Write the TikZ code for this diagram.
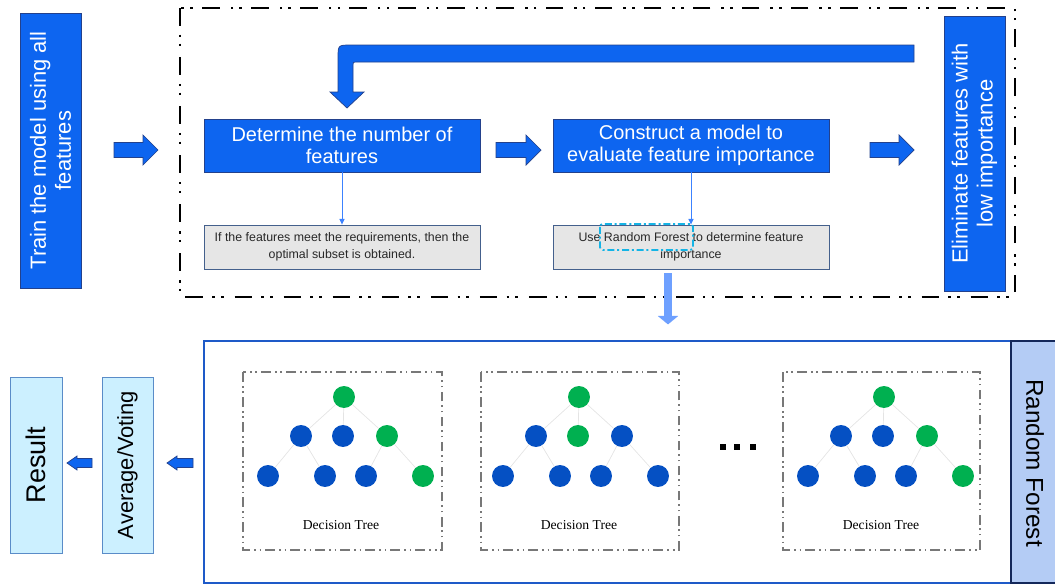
\documentclass[tikz,border=0pt]{standalone}
\usepackage{fontspec}
\setmainfont{Liberation Sans}
\newfontfamily\dtfont{Liberation Serif}
\usetikzlibrary{arrows.meta,calc}
\definecolor{mblue}{RGB}{13,101,240}
\definecolor{mborder}{RGB}{35,65,140}
\definecolor{gfill}{RGB}{230,230,230}
\definecolor{gborder}{RGB}{68,96,140}
\definecolor{gtext}{RGB}{40,40,40}
\definecolor{conn}{RGB}{60,130,255}
\definecolor{lblue}{RGB}{110,160,255}
\definecolor{cyanbox}{RGB}{20,180,230}
\definecolor{rfborder}{RGB}{30,90,200}
\definecolor{rffill}{RGB}{180,204,245}
\definecolor{rflabelborder}{RGB}{20,40,90}
\definecolor{resfill}{RGB}{204,240,255}
\definecolor{resborder}{RGB}{90,140,200}
\definecolor{tgreen}{RGB}{0,176,80}
\definecolor{tblue}{RGB}{5,80,195}
\definecolor{tedge}{RGB}{228,228,228}
\definecolor{tboxgray}{RGB}{120,120,120}
\def\PX{0.025cm}
\newcommand\fsB{\fontsize{14.2}{15.8}\selectfont}
\newcommand\fsV{\fontsize{15.6}{17.8}\selectfont}
\newcommand\fsG{\fontsize{8.8}{12}\selectfont}
\newcommand\fsRes{\fontsize{19.2}{22}\selectfont}
\newcommand\fsAvg{\fontsize{15.6}{18}\selectfont}
\newcommand\fsRF{\fontsize{17.3}{20}\selectfont}
\newcommand\fsDT{\dtfont\fontsize{9.7}{11}\selectfont}
% block arrow to the right: x1, x2 (tip), y centre
\newcommand\RArrow[3]{%
  \filldraw[fill=mblue,draw=mborder,line width=0.5pt]
   (#1,#3-7.5) -- (#2-15,#3-7.5) -- (#2-15,#3-15) -- (#2,#3) -- (#2-15,#3+15)
   -- (#2-15,#3+7.5) -- (#1,#3+7.5) -- cycle;}
% small block arrow to the left: x1 (tip), x2, y centre
\newcommand\LArrow[3]{%
  \filldraw[fill=mblue,draw=mborder,line width=0.5pt]
   (#1,#3) -- (#1+10,#3-7) -- (#1+10,#3-4.5) -- (#2,#3-4.5) -- (#2,#3+4.5)
   -- (#1+10,#3+4.5) -- (#1+10,#3+7) -- cycle;}
% decision tree: prefix, root x, colour of b, c, g
\newcommand\DTree[5]{%
  \node[tn,fill=tgreen] (#1r) at (#2,397) {};
  \node[tn,fill=tblue] (#1a) at (#2-43,436) {};
  \node[tn,fill=#3] (#1b) at (#2-1,436) {};
  \node[tn,fill=#4] (#1c) at (#2+43,436) {};
  \node[tn,fill=tblue] (#1d) at (#2-76,476) {};
  \node[tn,fill=tblue] (#1e) at (#2-19,476) {};
  \node[tn,fill=tblue] (#1f) at (#2+22,476) {};
  \node[tn,fill=#5] (#1g) at (#2+79,476) {};
  \draw[tedgest] (#1r) -- (#1a); \draw[tedgest] (#1r) -- (#1b); \draw[tedgest] (#1r) -- (#1c);
  \draw[tedgest] (#1a) -- (#1d); \draw[tedgest] (#1a) -- (#1e);
  \draw[tedgest] (#1c) -- (#1f); \draw[tedgest] (#1c) -- (#1g);}
\begin{document}
\begin{tikzpicture}[x=0.025cm,y=-0.025cm,
  bluebox/.style={draw=mborder,fill=mblue,line width=0.6pt,inner sep=0,text=white,align=center,font=\fsB},
  graybox/.style={draw=gborder,fill=gfill,line width=0.6pt,inner sep=0,text=gtext,align=center,font=\fsG},
  vtext/.style={text=white,align=center,font=\fsV,inner sep=0},
  thinconn/.style={draw=conn,line width=0.6pt,-{Triangle[width=3.6pt,length=4pt]}},
  outerdash/.style={draw=black,line width=1.7pt,dash pattern=on 12.5pt off 6.5pt on 1.8pt off 4.5pt on 1.8pt off 7.8pt},
  treedash/.style={draw=tboxgray,line width=1pt,dash pattern=on 7pt off 3pt on 1.2pt off 2.6pt on 1.2pt off 2.8pt},
  cyandash/.style={draw=cyanbox,line width=1.3pt,dash pattern=on 5pt off 2pt on 1.4pt off 2pt,rounded corners=2pt},
  tn/.style={circle,draw=none,minimum size=15.6pt,inner sep=0},
  tedgest/.style={draw=tedge,line width=0.5pt},
  resbox/.style={draw=resborder,fill=resfill,line width=0.6pt,inner sep=0},
  fatconn/.style={draw=lblue,line width=5.7pt,-{Triangle[width=14.2pt,length=6pt]}}
]
\useasboundingbox (0,0) rectangle (1055,585);
\clip (0,0) rectangle (1055,585);

% ---------- top part ----------
\node[bluebox,minimum width=61*\PX,minimum height=275*\PX] (train) at (50.5,150.5) {};
\node[vtext,rotate=90] (traintxt) at (train) {Train the model using all\\features};

\draw[outerdash] (180,8) rectangle (1015,297);

\node[bluebox,minimum width=276*\PX,minimum height=53*\PX] (det) at (342,145.5) {Determine the number of\\features};
\node[bluebox,minimum width=276*\PX,minimum height=53*\PX] (con) at (691,145.5) {Construct a model to\\evaluate feature importance};
\node[bluebox,minimum width=61*\PX,minimum height=275*\PX] (elim) at (974.5,153.5) {};
\node[vtext,rotate=90] (elimtxt) at (elim) {Eliminate features with\\low importance};

\node[graybox,minimum width=276*\PX,minimum height=44*\PX] (opt) at (342,247) {If the features meet the requirements, then the\\optimal subset is obtained.};
\node[graybox,minimum width=276*\PX,minimum height=44*\PX] (use) at (691,247) {Use Random Forest to determine feature\\importance};

\draw[thinconn] (det.south) -- (opt.north);
\draw[thinconn] (con.south) -- (use.north);

\draw[cyandash] (600,224) rectangle (693,250);

\RArrow{114}{158}{150}
\RArrow{496}{541}{150}
\RArrow{870}{914}{150}

% loop arrow
\filldraw[fill=mblue,draw=mborder,line width=0.5pt]
  (914,45) -- (351,45) .. controls (338,45) and (338,45) .. (338,58) -- (338,92)
  -- (330,92) -- (347,108) -- (364,92) -- (353,92) -- (353,65)
  .. controls (353,62) and (353,62) .. (356,62) -- (914,62) -- cycle;

\coordinate (fatstart) at ($(use.south)+(-23,4)$);
\coordinate (fatend) at ($(use.south)+(-23,55)$);
\draw[fatconn] (fatstart) -- (fatend);

% ---------- bottom part ----------
\node[draw=rfborder,line width=1.4pt,minimum width=807*\PX,minimum height=242*\PX,inner sep=0] (rf) at (607.5,462) {};
\node[draw=rflabelborder,fill=rffill,line width=1.2pt,minimum width=50*\PX,minimum height=242*\PX,inner sep=0] (rflabel) at (1036,462) {};
\node[rotate=-90,font=\fsRF,inner sep=0] (rftxt) at (1035,463) {Random Forest};

\draw[treedash] (243,372) rectangle (442,550);
\draw[treedash] (481,372) rectangle (679,550);
\draw[treedash] (783,372) rectangle (980,550);

\DTree{ta}{344}{tblue}{tgreen}{tgreen}
\DTree{tb}{579}{tgreen}{tblue}{tblue}
\DTree{tc}{884}{tblue}{tgreen}{tgreen}

\node[font=\fsDT,inner sep=0] (dt1) at (341,525) {Decision Tree};
\node[font=\fsDT,inner sep=0] (dt2) at (579,525) {Decision Tree};
\node[font=\fsDT,inner sep=0] (dt3) at (881,525) {Decision Tree};

\fill[black] (720,444) rectangle (726,450);
\fill[black] (734,444) rectangle (740,450);
\fill[black] (750,444) rectangle (756,450);

\node[resbox,minimum width=52*\PX,minimum height=176*\PX] (res) at (36,465) {};
\node[rotate=90,font=\fsRes,inner sep=0] (restxt) at (res) {Result};
\node[resbox,minimum width=51*\PX,minimum height=176*\PX] (avg) at (127.5,465) {};
\node[rotate=90,font=\fsAvg,inner sep=0] (avgtxt) at (avg) {Average/Voting};

\LArrow{67}{92}{463}
\LArrow{167}{193}{463}
\end{tikzpicture}
\end{document}
